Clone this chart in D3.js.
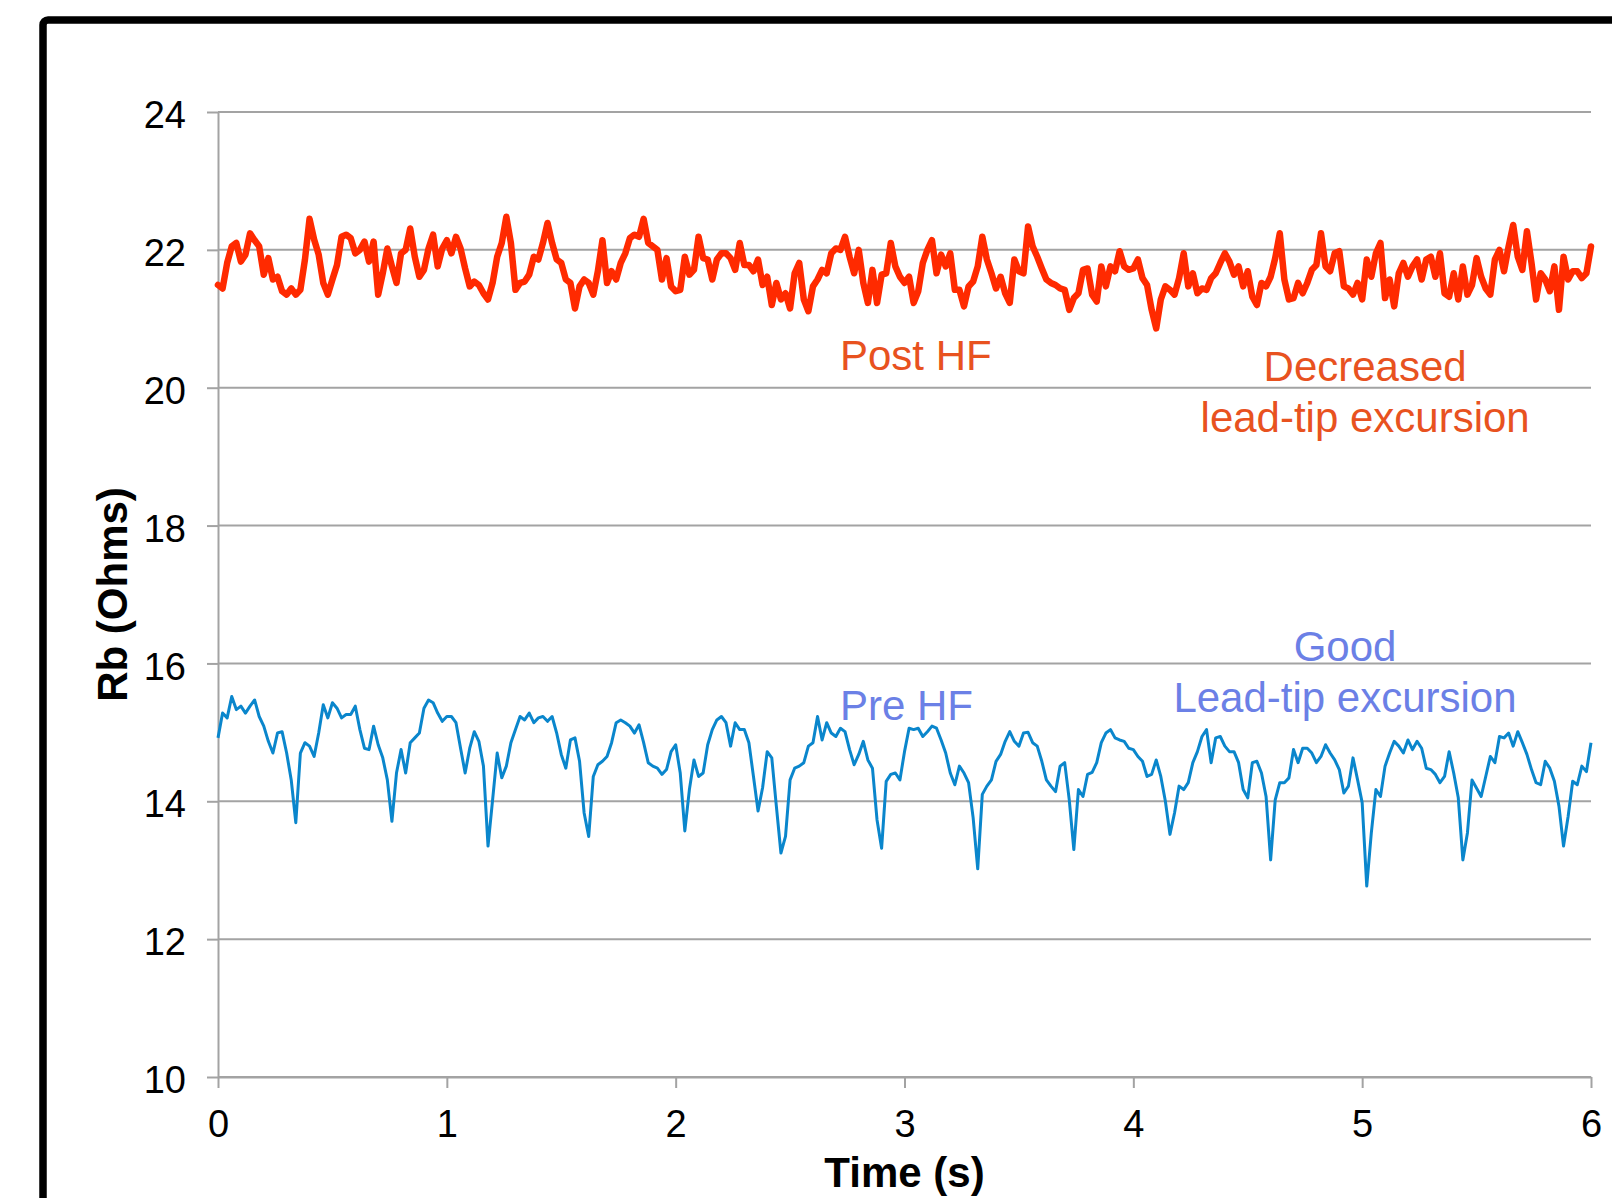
<!DOCTYPE html>
<html>
<head>
<meta charset="utf-8">
<script src="https://d3js.org/d3.v7.min.js"></script>
<style>
  body { margin: 0; background: #fff; }
  svg { display: block; }
  text { font-family: "Liberation Sans", Arial, sans-serif; }
</style>
</head>
<body>
<script>
    // sampling interval of both traces (s)
    const timeStep = 0.02;

    // Rb (Ohms), post heart failure, every 0.02 s
    const postHF = [
        21.49, 21.44, 21.81, 22.05, 22.10, 21.83, 21.93, 22.24, 22.14, 22.05,
        21.64, 21.88, 21.57, 21.61, 21.40, 21.35, 21.44, 21.35, 21.42, 21.86,
        22.45, 22.15, 21.93, 21.52, 21.35, 21.57, 21.78, 22.19, 22.22, 22.17,
        21.95, 22.00, 22.12, 21.83, 22.12, 21.35, 21.66, 22.02, 21.76, 21.52,
        21.95, 22.00, 22.31, 21.90, 21.61, 21.71, 22.02, 22.22, 21.76, 22.02,
        22.14, 21.95, 22.19, 22.02, 21.73, 21.47, 21.54, 21.49, 21.37, 21.28,
        21.52, 21.90, 22.10, 22.48, 22.10, 21.42, 21.52, 21.54, 21.64, 21.90,
        21.86, 22.10, 22.39, 22.10, 21.86, 21.81, 21.57, 21.52, 21.15, 21.47,
        21.57, 21.52, 21.35, 21.69, 22.14, 21.52, 21.69, 21.57, 21.81, 21.95,
        22.17, 22.22, 22.19, 22.45, 22.10, 22.05, 22.00, 21.57, 21.88, 21.47,
        21.40, 21.42, 21.90, 21.64, 21.71, 22.19, 21.88, 21.86, 21.57, 21.86,
        21.95, 21.95, 21.88, 21.71, 22.10, 21.78, 21.78, 21.69, 21.86, 21.49,
        21.61, 21.20, 21.52, 21.28, 21.37, 21.15, 21.66, 21.81, 21.28, 21.11,
        21.47, 21.57, 21.71, 21.66, 21.95, 22.02, 22.00, 22.19, 21.90, 21.66,
        22.00, 21.52, 21.23, 21.71, 21.23, 21.64, 21.66, 22.10, 21.76, 21.61,
        21.52, 21.61, 21.23, 21.40, 21.81, 22.00, 22.14, 21.66, 21.93, 21.76,
        21.95, 21.42, 21.42, 21.18, 21.47, 21.54, 21.76, 22.19, 21.86, 21.66,
        21.44, 21.61, 21.37, 21.23, 21.86, 21.69, 21.66, 22.34, 22.05, 21.90,
        21.73, 21.57, 21.52, 21.49, 21.44, 21.42, 21.13, 21.30, 21.37, 21.71,
        21.73, 21.35, 21.25, 21.76, 21.47, 21.76, 21.69, 21.98, 21.76, 21.71,
        21.73, 21.86, 21.59, 21.49, 21.13, 20.86, 21.28, 21.47, 21.42, 21.35,
        21.59, 21.95, 21.47, 21.66, 21.37, 21.44, 21.42, 21.59, 21.66, 21.81,
        21.95, 21.83, 21.64, 21.76, 21.47, 21.69, 21.32, 21.20, 21.52, 21.47,
        21.61, 21.88, 22.24, 21.57, 21.28, 21.30, 21.52, 21.37, 21.52, 21.71,
        21.78, 22.24, 21.76, 21.69, 21.95, 21.98, 21.47, 21.44, 21.35, 21.52,
        21.28, 21.86, 21.61, 21.95, 22.10, 21.30, 21.57, 21.18, 21.66, 21.81,
        21.61, 21.76, 21.86, 21.57, 21.86, 21.90, 21.61, 21.95, 21.37, 21.32,
        21.66, 21.28, 21.76, 21.35, 21.49, 21.88, 21.61, 21.44, 21.35, 21.86,
        22.00, 21.69, 22.05, 22.36, 21.90, 21.71, 22.27, 21.81, 21.28, 21.66,
        21.57, 21.40, 21.76, 21.13, 21.90, 21.57, 21.69, 21.69, 21.59, 21.66,
        22.05
    ];

    // Rb (Ohms), pre heart failure
    const preHF = [
        14.92, 15.28, 15.21, 15.52, 15.33, 15.38, 15.28, 15.38, 15.47, 15.23,
        15.09, 14.87, 14.70, 14.99, 15.01, 14.70, 14.31, 13.69, 14.70, 14.85,
        14.80, 14.65, 14.99, 15.40, 15.21, 15.43, 15.35, 15.21, 15.26, 15.26,
        15.38, 15.04, 14.77, 14.75, 15.09, 14.82, 14.63, 14.31, 13.71, 14.41,
        14.75, 14.41, 14.85, 14.92, 14.99, 15.35, 15.47, 15.43, 15.28, 15.16,
        15.23, 15.23, 15.14, 14.77, 14.41, 14.77, 15.01, 14.87, 14.51, 13.35,
        14.02, 14.70, 14.34, 14.51, 14.85, 15.04, 15.23, 15.18, 15.28, 15.14,
        15.21, 15.23, 15.16, 15.23, 14.99, 14.68, 14.48, 14.89, 14.92, 14.58,
        13.83, 13.49, 14.36, 14.53, 14.58, 14.65, 14.85, 15.14, 15.18, 15.14,
        15.09, 14.99, 15.11, 14.85, 14.56, 14.51, 14.48, 14.39, 14.46, 14.72,
        14.82, 14.41, 13.57, 14.17, 14.60, 14.36, 14.41, 14.82, 15.04, 15.18,
        15.23, 15.14, 14.80, 15.14, 15.04, 15.04, 14.85, 14.36, 13.86, 14.20,
        14.72, 14.63, 13.93, 13.25, 13.49, 14.31, 14.48, 14.51, 14.56, 14.80,
        14.85, 15.23, 14.89, 15.14, 14.99, 14.94, 15.06, 15.01, 14.75, 14.53,
        14.68, 14.87, 14.60, 14.48, 13.73, 13.32, 14.29, 14.39, 14.41, 14.31,
        14.72, 15.06, 15.04, 15.06, 14.94, 15.01, 15.09, 15.06, 14.89, 14.70,
        14.41, 14.24, 14.51, 14.41, 14.27, 13.76, 13.02, 14.10, 14.22, 14.31,
        14.58, 14.68, 14.87, 15.01, 14.87, 14.80, 14.99, 15.00, 14.85, 14.80,
        14.58, 14.31, 14.22, 14.14, 14.51, 14.56, 14.02, 13.30, 14.17, 14.07,
        14.39, 14.42, 14.56, 14.85, 14.99, 15.04, 14.92, 14.89, 14.87, 14.77,
        14.75, 14.65, 14.58, 14.36, 14.39, 14.60, 14.36, 14.00, 13.52, 13.83,
        14.22, 14.17, 14.27, 14.56, 14.72, 14.94, 15.04, 14.56, 14.92, 14.94,
        14.80, 14.72, 14.72, 14.56, 14.17, 14.05, 14.56, 14.58, 14.41, 14.07,
        13.15, 14.02, 14.27, 14.27, 14.34, 14.75, 14.56, 14.77, 14.77, 14.70,
        14.56, 14.65, 14.82, 14.70, 14.60, 14.46, 14.12, 14.22, 14.63, 14.31,
        13.98, 12.77, 13.54, 14.17, 14.07, 14.51, 14.70, 14.87, 14.80, 14.70,
        14.89, 14.75, 14.87, 14.77, 14.48, 14.46, 14.39, 14.27, 14.36, 14.72,
        14.41, 14.05, 13.15, 13.54, 14.31, 14.19, 14.07, 14.36, 14.65, 14.56,
        14.94, 14.92, 14.99, 14.80, 15.01, 14.85, 14.68, 14.46, 14.27, 14.24,
        14.58, 14.48, 14.29, 13.93, 13.35, 13.78, 14.29, 14.24, 14.51, 14.43,
        14.85
    ];

    const xTicks = [0, 1, 2, 3, 4, 5, 6];
    const yTicks = [10, 12, 14, 16, 18, 20, 22, 24];

    const W = 1612, H = 1198;
    const plot = {left: 218, right: 1591, top: 112, bottom: 1077};
    const gridColor = "#a3a3a3";

    let svg = d3.select("body").append("svg")
        .attr("width", W)
        .attr("height", H);

    // outer frame (runs off the right and bottom edges)
    svg.append("rect")
        .attr("x", 43).attr("y", 20)
        .attr("width", 1800).attr("height", 1400)
        .attr("rx", 5)
        .attr("fill", "none")
        .attr("stroke", "#000")
        .attr("stroke-width", 7.5);

    let x = d3.scaleLinear().domain([0, 6]).range([plot.left, plot.right]);
    let y = d3.scaleLinear().domain([10, 24]).range([plot.bottom, plot.top]);

    // horizontal gridlines
    svg.append("g").selectAll("line")
        .data(yTicks)
        .join("line")
        .attr("x1", plot.left).attr("x2", plot.right)
        .attr("y1", d => y(d)).attr("y2", d => y(d))
        .attr("stroke", gridColor)
        .attr("stroke-width", 2);

    // y axis
    let yAxis = svg.append("g")
        .attr("transform", "translate(" + plot.left + ",0)")
        .call(d3.axisLeft(y).tickValues(yTicks).tickFormat(d3.format("d"))
            .tickSize(11).tickSizeOuter(0).tickPadding(21));
    // x axis
    let xAxis = svg.append("g")
        .attr("transform", "translate(0," + plot.bottom + ")")
        .call(d3.axisBottom(x).tickValues(xTicks).tickFormat(d3.format("d"))
            .tickSize(11).tickSizeOuter(0).tickPadding(22));

    [yAxis, xAxis].forEach(a => {
        a.select(".domain").attr("stroke", gridColor).attr("stroke-width", 2);
        a.selectAll(".tick line").attr("stroke", gridColor).attr("stroke-width", 2);
        a.selectAll(".tick text")
            .attr("fill", "#000")
            .style("font-size", "38px")
            .style("font-family", "'Liberation Sans', Arial, sans-serif");
    });
    yAxis.selectAll(".tick text").attr("dy", "0.41em");

    // axis titles
    svg.append("text")
        .attr("transform", "translate(127," + ((plot.top + plot.bottom) / 2) + ") rotate(-90)")
        .attr("text-anchor", "middle")
        .style("font-size", "42px")
        .style("font-weight", "bold")
        .text("Rb (Ohms)");

    svg.append("text")
        .attr("x", (plot.left + plot.right) / 2)
        .attr("y", 1187)
        .attr("text-anchor", "middle")
        .style("font-size", "42px")
        .style("font-weight", "bold")
        .text("Time (s)");

    // traces
    let line = d3.line()
        .x((d, i) => x(i * timeStep))
        .y(d => y(d));

    svg.append("path")
        .datum(preHF)
        .attr("d", line)
        .attr("fill", "none")
        .attr("stroke", "#0a86cc")
        .attr("stroke-width", 3)
        .attr("stroke-linejoin", "round");

    svg.append("path")
        .datum(postHF)
        .attr("d", line)
        .attr("fill", "none")
        .attr("stroke", "#ff2a00")
        .attr("stroke-width", 6.5)
        .attr("stroke-linejoin", "round")
        .attr("stroke-linecap", "round");

    // annotations
    const orange = "#e8521f", periwinkle = "#6b80e6";
    function note(t, v, str, color, anchor) {
        svg.append("text")
            .attr("x", x(t)).attr("y", y(v))
            .attr("text-anchor", anchor)
            .attr("fill", color)
            .style("font-size", "42px")
            .text(str);
    }
    note(2.718, 20.26, "Post HF", orange, "start");
    note(5.013, 20.10, "Decreased", orange, "middle");
    note(5.013, 19.36, "lead-tip excursion", orange, "middle");
    note(4.925, 16.04, "Good", periwinkle, "middle");
    note(4.925, 15.30, "Lead-tip excursion", periwinkle, "middle");
    note(2.718, 15.18, "Pre HF", periwinkle, "start");
</script>
</body>
</html>
